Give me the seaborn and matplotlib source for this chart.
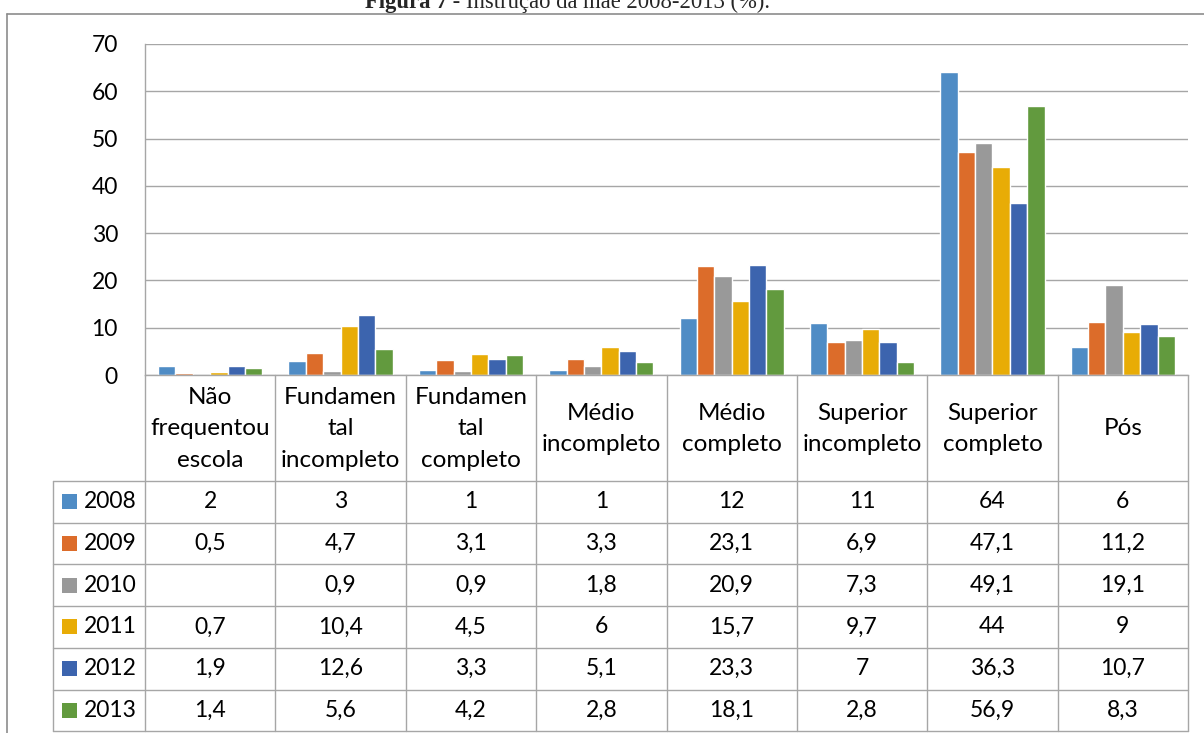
import numpy as np
import pandas as pd
import matplotlib
matplotlib.use("Agg")
import matplotlib.pyplot as plt
import seaborn as sns
from matplotlib.lines import Line2D
from matplotlib.patches import Rectangle

# --- data -------------------------------------------------------------
categories = [
    "Não\nfrequentou\nescola",
    "Fundamen\ntal\nincompleto",
    "Fundamen\ntal\ncompleto",
    "Médio\nincompleto",
    "Médio\ncompleto",
    "Superior\nincompleto",
    "Superior\ncompleto",
    "Pós",
]
years = ["2008", "2009", "2010", "2011", "2012", "2013"]
v2008 = [2, 3, 1, 1, 12, 11, 64, 6]
v2009 = [0.5, 4.7, 3.1, 3.3, 23.1, 6.9, 47.1, 11.2]
v2010 = [np.nan, 0.9, 0.9, 1.8, 20.9, 7.3, 49.1, 19.1]
v2011 = [0.7, 10.4, 4.5, 6, 15.7, 9.7, 44, 9]
v2012 = [1.9, 12.6, 3.3, 5.1, 23.3, 7, 36.3, 10.7]
v2013 = [1.4, 5.6, 4.2, 2.8, 18.1, 2.8, 56.9, 8.3]
yticks = [0, 10, 20, 30, 40, 50, 60, 70]
title_bold = "Figura 7"
title_rest = " - Instrução da mãe 2008-2013 (%)."

series = dict(zip(years, [v2008, v2009, v2010, v2011, v2012, v2013]))
colors = ["#4F8CC5", "#DC6C2A", "#999999", "#E8AC06", "#3C64AE", "#629A3E"]
palette = dict(zip(years, colors))

rows = []
for y in years:
    for c, v in zip(categories, series[y]):
        rows.append({"categoria": c, "ano": y, "valor": v})
df = pd.DataFrame(rows)

# --- figure -----------------------------------------------------------
W, H = 1204, 733
sns.set_style("white")
plt.rcParams["font.family"] = ["Lato", "DejaVu Sans"]
fig = plt.figure(figsize=(W / 100, H / 100), dpi=100)
txt_c = "#000000"
fs_num = 16.5
fs_head = 17.5


def px(x):
    return x / W


def py(y):
    return 1 - y / H


# plot area geometry (pixels)
x0, x1 = 145, 1188
ytop, ybase = 44, 375
ax = fig.add_axes([px(x0), py(ybase), px(x1) - px(x0), py(ytop) - py(ybase)])

sns.barplot(
    data=df, x="categoria", y="valor", hue="ano",
    order=categories, hue_order=years, palette=palette,
    width=0.8, gap=0, saturation=1, legend=False, ax=ax,
)
ax.set_xlim(-0.5, len(categories) - 0.5)
ax.set_ylim(0, 70)
ax.set_yticks(yticks)
ax.set_yticklabels([str(t) for t in yticks], fontsize=fs_num, color=txt_c)
ax.tick_params(axis="y", length=0, pad=19.5)
ax.set_xticks([])
ax.set_xlabel("")
ax.set_ylabel("")
grid_c = "#A6A6A6"
ax.yaxis.grid(True, color=grid_c, lw=1.0)
ax.set_axisbelow(True)
for s in ["top", "right"]:
    ax.spines[s].set_visible(False)
for s in ["left", "bottom"]:
    ax.spines[s].set_color(grid_c)
    ax.spines[s].set_linewidth(1.0)


def hline(xa, xb, y, **kw):
    fig.add_artist(Line2D([px(xa), px(xb)], [py(y), py(y)],
                          transform=fig.transFigure, **kw))


def vline(x, ya, yb, **kw):
    fig.add_artist(Line2D([px(x), px(x)], [py(ya), py(yb)],
                          transform=fig.transFigure, **kw))


# --- data table under the plot ---------------------------------------
tbl_left = 53
col_w = (x1 - x0) / len(categories)
header_bottom = 481
row_h = 41.7
row_edges = [header_bottom + i * row_h for i in range(len(years) + 1)]
line_kw = dict(color=grid_c, lw=1.0)

for i in range(len(categories) + 1):
    vline(x0 + i * col_w, ybase, row_edges[-1], **line_kw)
vline(tbl_left, header_bottom, row_edges[-1], **line_kw)
for ye in row_edges:
    hline(tbl_left, x1, ye, **line_kw)


def fmt(v):
    if v is None or (isinstance(v, float) and np.isnan(v)):
        return ""
    if float(v).is_integer():
        return str(int(v))
    return str(v).replace(".", ",")


for j, c in enumerate(categories):
    cx = x0 + (j + 0.5) * col_w
    fig.text(px(cx), py((ybase + header_bottom) / 2 + 1), c, ha="center",
             va="center", fontsize=fs_head, linespacing=1.6, color=txt_c)

for i, y in enumerate(years):
    cy = (row_edges[i] + row_edges[i + 1]) / 2
    fig.add_artist(Rectangle((px(62), py(cy + 7.5)), px(15), 15 / H,
                             transform=fig.transFigure,
                             facecolor=palette[y], edgecolor="none"))
    fig.text(px(84), py(cy), y, ha="left", va="center", fontsize=fs_num,
             color=txt_c)
    for j, v in enumerate(series[y]):
        cx = x0 + (j + 0.5) * col_w
        fig.text(px(cx), py(cy), fmt(v), ha="center", va="center",
                 fontsize=fs_num, color=txt_c)

# --- outer frame and caption -----------------------------------------
frame_c = "#8C8C8C"
vline(7, 14, H + 5, color=frame_c, lw=1.2)
hline(7, W + 5, 14, color=frame_c, lw=1.2)

fig.text(px(447), py(8), title_bold, ha="right", va="baseline",
         fontsize=16.3, fontweight="bold", family="Liberation Serif")
fig.text(px(447), py(8), title_rest, ha="left", va="baseline",
         fontsize=16.3, family="Liberation Serif")

fig.savefig("out.png", dpi=100)
